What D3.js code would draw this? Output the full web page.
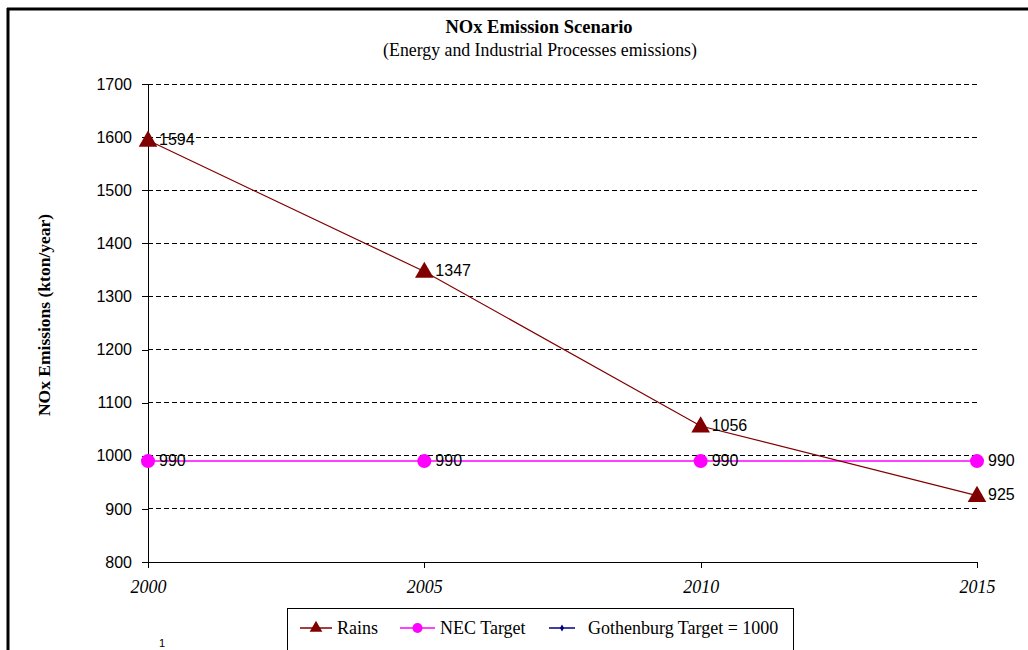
<!DOCTYPE html>
<html>
<head>
<meta charset="utf-8">
<script src="https://cdn.jsdelivr.net/npm/d3@7"></script>
<style>
  html, body { margin: 0; padding: 0; background: #fff; }
  svg { display: block; }
</style>
</head>
<body>
<svg id="chart" width="1028" height="650"></svg>
<script>
// Scenario years and series values (kton/year)
const years = ["2000", "2005", "2010", "2015"];
const rains = [1594, 1347, 1056, 925];
const necTarget = [990, 990, 990, 990];
const gothenburgTarget = 1000;
const yTicks = [800, 900, 1000, 1100, 1200, 1300, 1400, 1500, 1600, 1700];
const legendLabels = ["Rains", "NEC Target", "Gothenburg Target = " + gothenburgTarget];

const svg = d3.select("#chart");
const serif = "'Liberation Serif', 'Times New Roman', serif";
const sans = "'Liberation Sans', Arial, sans-serif";

const x = d3.scalePoint().domain(years).range([148, 977]);
const y = d3.scaleLinear().domain([800, 1700]).range([562, 84]);

// Frame lines (top and left)
svg.append("line").attr("x1", 7).attr("x2", 1028).attr("y1", 9).attr("y2", 9)
  .attr("stroke", "#000").attr("stroke-width", 3);
svg.append("line").attr("x1", 8).attr("x2", 8).attr("y1", 8).attr("y2", 650)
  .attr("stroke", "#000").attr("stroke-width", 3);

// Titles
svg.append("text").attr("x", 539).attr("y", 33).attr("text-anchor", "middle")
  .attr("font-family", serif).attr("font-weight", "bold").attr("font-size", 18.5)
  .text("NOx Emission Scenario");
svg.append("text").attr("x", 540).attr("y", 56).attr("text-anchor", "middle")
  .attr("font-family", serif).attr("font-size", 17.8)
  .text("(Energy and Industrial Processes emissions)");

// Horizontal dashed gridlines
svg.append("g").selectAll("line")
  .data(yTicks.filter(v => v > 800))
  .join("line")
  .attr("x1", x(years[0])).attr("x2", x(years[years.length - 1]))
  .attr("y1", d => y(d)).attr("y2", d => y(d))
  .attr("stroke", "#000").attr("stroke-width", 1)
  .attr("stroke-dasharray", "5,3")
  .attr("shape-rendering", "crispEdges");

// Y axis
const yAxis = svg.append("g").attr("transform", `translate(${x(years[0])},0)`)
  .call(d3.axisLeft(y).tickValues(yTicks).tickSize(6).tickSizeOuter(0).tickPadding(10).tickFormat(d3.format("d")));
yAxis.selectAll("text").attr("font-family", sans).attr("font-size", 16).attr("fill", "#000");
yAxis.selectAll("line, path").attr("stroke", "#000").attr("shape-rendering", "crispEdges");

// X axis
const xAxis = svg.append("g").attr("transform", `translate(0,${y(800)})`)
  .call(d3.axisBottom(x).tickSize(6).tickSizeOuter(0).tickPadding(12));
xAxis.selectAll("text").attr("font-family", serif).attr("font-style", "italic")
  .attr("font-size", 18).attr("fill", "#000");
xAxis.selectAll("line, path").attr("stroke", "#000").attr("shape-rendering", "crispEdges");

// Y axis title
svg.append("text")
  .attr("transform", "translate(50,315) rotate(-90)")
  .attr("text-anchor", "middle")
  .attr("font-family", serif).attr("font-weight", "bold").attr("font-size", 17.5)
  .text("NOx Emissions (kton/year)");

// Series lines
const line = d3.line().x((d, i) => x(years[i])).y(d => y(d));
svg.append("path").datum(necTarget).attr("d", line)
  .attr("fill", "none").attr("stroke", "#ff00ff").attr("stroke-width", 1.5);
svg.append("path").datum(rains).attr("d", line)
  .attr("fill", "none").attr("stroke", "#800000").attr("stroke-width", 1.2);

// Markers
const tri = d3.symbol().type(d3.symbolTriangle).size(150);
svg.append("g").selectAll("circle").data(necTarget).join("circle")
  .attr("cx", (d, i) => x(years[i])).attr("cy", d => y(d)).attr("r", 7)
  .attr("fill", "#ff00ff");
svg.append("g").selectAll("path").data(rains).join("path")
  .attr("d", tri)
  .attr("transform", (d, i) => `translate(${x(years[i])},${y(d) + 1})`)
  .attr("fill", "#800000");

// Value labels
function labels(values) {
  svg.append("g").selectAll("text").data(values).join("text")
    .attr("x", (d, i) => x(years[i]) + 11)
    .attr("y", d => y(d))
    .attr("dy", "0.3em")
    .attr("font-family", sans).attr("font-size", 16).attr("fill", "#000")
    .text(d => d);
}
labels(rains);
labels(necTarget);

// Legend
const lg = svg.append("g");
lg.append("rect").attr("x", 287.5).attr("y", 608.5).attr("width", 506).attr("height", 60)
  .attr("fill", "#fff").attr("stroke", "#000").attr("stroke-width", 1);
const ly = 628;
const items = [
  { x1: 300, x2: 332, tx: 337, color: "#800000", label: legendLabels[0], mark: "tri" },
  { x1: 400, x2: 435, tx: 440, color: "#ff00ff", label: legendLabels[1], mark: "circle" },
  { x1: 549, x2: 575, tx: 588, color: "#000080", label: legendLabels[2], mark: "diamond" }
];
items.forEach(it => {
  lg.append("line").attr("x1", it.x1).attr("x2", it.x2).attr("y1", ly).attr("y2", ly)
    .attr("stroke", it.color).attr("stroke-width", 1.5);
  const cx = (it.x1 + it.x2) / 2;
  if (it.mark === "tri") {
    lg.append("path").attr("d", d3.symbol().type(d3.symbolTriangle).size(70))
      .attr("transform", `translate(${cx},${ly})`).attr("fill", it.color);
  } else if (it.mark === "circle") {
    lg.append("circle").attr("cx", cx).attr("cy", ly).attr("r", 5).attr("fill", it.color);
  } else {
    lg.append("path").attr("d", d3.symbol().type(d3.symbolDiamond).size(14))
      .attr("transform", `translate(${cx},${ly})`).attr("fill", it.color);
  }
  lg.append("text").attr("x", it.tx).attr("y", ly).attr("dy", "0.35em")
    .attr("font-family", serif).attr("font-size", 18).attr("fill", "#000")
    .text(it.label);
});

// Page number mark
svg.append("text").attr("x", 162).attr("y", 647).attr("text-anchor", "middle")
  .attr("font-family", sans).attr("font-size", 11).attr("fill", "#000").text("1");
</script>
</body>
</html>
